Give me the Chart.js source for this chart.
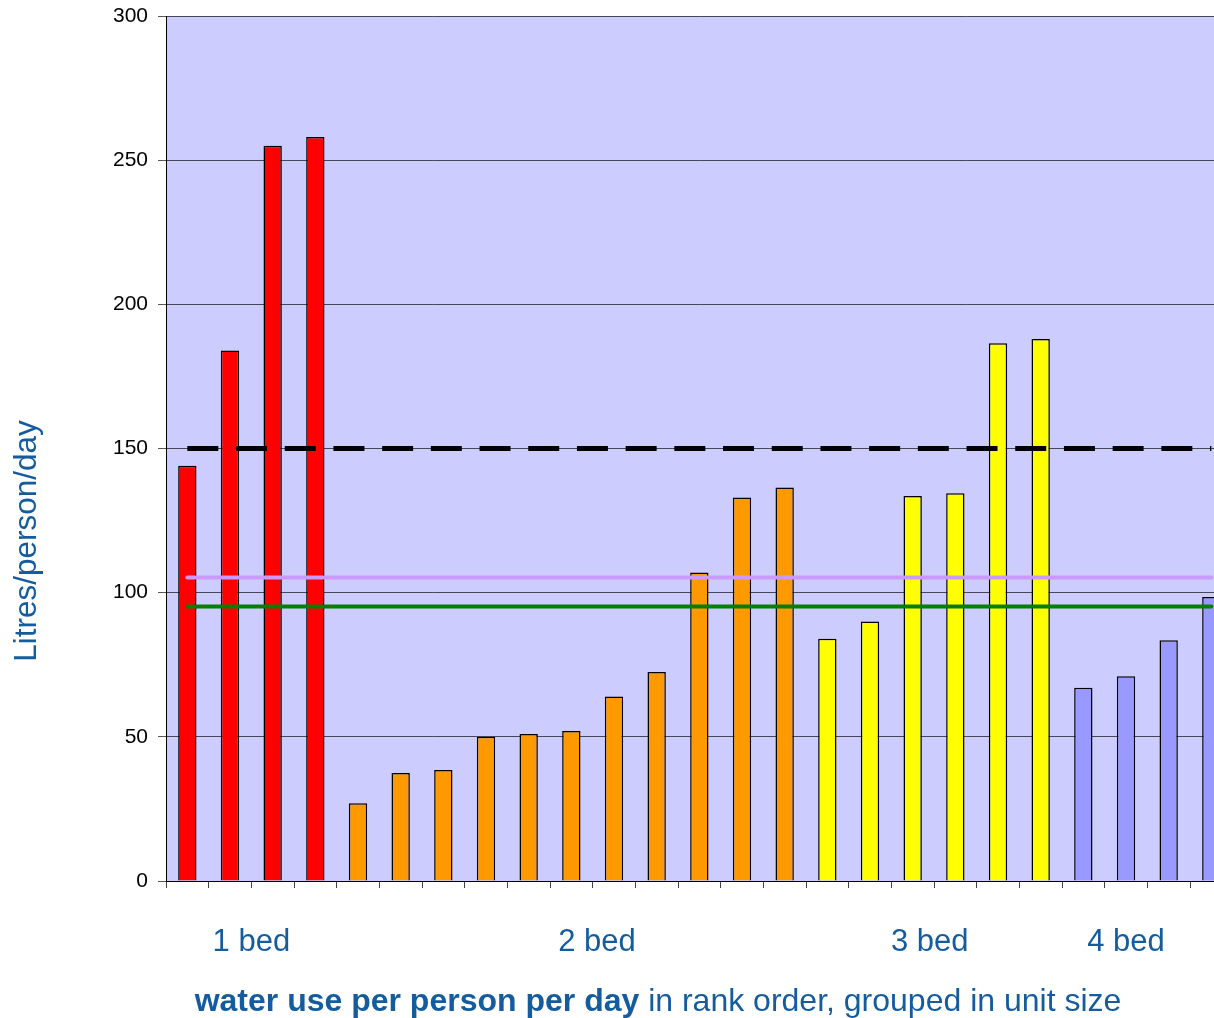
<!DOCTYPE html>
<html>
<head>
<meta charset="utf-8">
<script src="https://cdn.jsdelivr.net/npm/chart.js@4/dist/chart.umd.min.js"></script>
<style>
html, body { margin: 0; padding: 0; background: #ffffff; overflow: hidden; width: 1214px; height: 1018px; }
#wrap { position: relative; width: 1240px; height: 1018px; }
</style>
</head>
<body>
<div id="wrap"><canvas id="c"></canvas></div>
<script>
// ---- data ----
const groupNames = ["1 bed", "2 bed", "3 bed", "4 bed"];
const oneBed   = [144, 184, 255, 258];
const twoBed   = [27, 37.5, 38.5, 50, 51, 52, 64, 72.5, 107, 133, 136.5];
const threeBed = [84, 90, 133.5, 134.5, 186.5, 188];
const fourBed  = [67, 71, 83.5, 98.5];
const groupColors = ["#FF0000", "#FF9900", "#FFFF00", "#9999FF"];
const groupLabelAt = [1.5, 9.6, 17.4, 22.0];   // category index positions of group labels
const yTicks = [0, 50, 100, 150, 200, 250, 300];
const refDashed = 150;   // black dashed reference
const refPink = 105.3;   // lilac reference
const refGreen = 95.2;   // green reference
const xTitleBold = "water use per person per day";
const xTitleRest = " in rank order, grouped in unit size";
const yTitle = "Litres/person/day";

// ---- build ----
const groups = [oneBed, twoBed, threeBed, fourBed];
const values = [].concat(...groups);
const barColors = [];
groups.forEach((g, i) => g.forEach(() => barColors.push(groupColors[i])));
const categories = values.map((v, i) => String(i + 1));
const flat = v => values.map(() => v);

const FONT = "'Liberation Sans', Arial, sans-serif";
const TEXT_BLUE = "#155C9E";

const bgPlugin = {
  id: 'bg',
  beforeDraw(chart) {
    const { ctx, chartArea: a } = chart;
    ctx.save();
    ctx.fillStyle = '#CCCCFF';
    ctx.fillRect(a.left, a.top, a.right - a.left, a.bottom - a.top);
    ctx.restore();
  },
  afterDraw(chart) {
    const { ctx } = chart;
    const x = chart.scales.x;
    ctx.save();
    ctx.fillStyle = TEXT_BLUE;
    // group labels
    ctx.font = "31px " + FONT;
    ctx.textAlign = 'center';
    ctx.textBaseline = 'alphabetic';
    groupNames.forEach((n, i) => {
      ctx.fillText(n, x.getPixelForValue(groupLabelAt[i]), 951);
    });
    // x title, mixed bold / regular
    const tf = "32px " + FONT;
    ctx.font = "bold " + tf;
    const wb = ctx.measureText(xTitleBold).width;
    ctx.font = tf;
    const wr = ctx.measureText(xTitleRest).width;
    const cx = 658;
    let sx = cx - (wb + wr) / 2;
    ctx.textAlign = 'left';
    ctx.font = "bold " + tf;
    ctx.fillText(xTitleBold, sx, 1011);
    ctx.font = tf;
    ctx.fillText(xTitleRest, sx + wb, 1011);
    // y title
    ctx.translate(27, 541);
    ctx.rotate(-Math.PI / 2);
    ctx.textAlign = 'center';
    ctx.textBaseline = 'middle';
    ctx.font = "31.5px " + FONT;
    ctx.fillText(yTitle, 0, 0);
    ctx.restore();
  }
};

new Chart(document.getElementById('c'), {
  data: {
    labels: categories,
    datasets: [
      {
        type: 'bar', data: values, backgroundColor: barColors,
        borderColor: '#000000', borderWidth: 1.5,
        barPercentage: 0.43, categoryPercentage: 1.0, order: 2
      },
      {
        type: 'line', data: flat(refDashed), borderColor: '#000000', borderWidth: 5,
        borderDash: [31, 17.7], pointRadius: 0, fill: false, order: 0
      },
      {
        type: 'line', data: flat(refPink), borderColor: '#CC99FF', borderWidth: 4,
        pointRadius: 0, fill: false, order: 1, borderCapStyle: 'round'
      },
      {
        type: 'line', data: flat(refGreen), borderColor: '#008000', borderWidth: 4,
        pointRadius: 0, fill: false, order: 1, borderCapStyle: 'round'
      }
    ]
  },
  options: {
    responsive: true,
    maintainAspectRatio: false,
    animation: false,
    events: [],
    layout: { padding: { left: 0, right: 7.33, top: 16, bottom: 0 } },
    plugins: { legend: { display: false }, tooltip: { enabled: false } },
    scales: {
      x: {
        type: 'category',
        offset: true,
        grid: { display: true, drawOnChartArea: false, drawTicks: true, tickLength: 7, color: '#444', offset: true },
        border: { display: true, color: '#000000', width: 1 },
        ticks: { display: true, callback: () => '', font: { size: 1 } },
        afterFit(s) { s.height = 1018 - 881; s.paddingLeft = 0; s.paddingRight = 0; }
      },
      y: {
        min: 0, max: 300,
        afterBuildTicks(s) { s.ticks = yTicks.map(v => ({ value: v })); },
        grid: { color: 'rgba(0,0,0,0.65)', lineWidth: 1, tickLength: 8 },
        border: { display: true, color: '#000000', width: 1 },
        ticks: { color: '#000000', font: { family: FONT, size: 21 }, padding: 10 },
        afterFit(s) { s.width = 166; s.paddingTop = 0; s.paddingBottom = 0; }
      }
    }
  },
  plugins: [bgPlugin]
});
</script>
</body>
</html>
